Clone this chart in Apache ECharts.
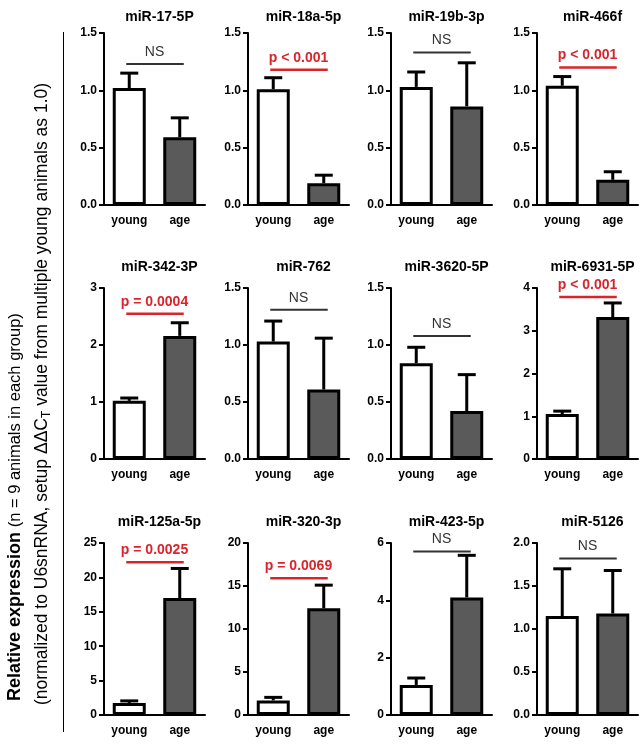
<!DOCTYPE html>
<html>
<head>
<meta charset="utf-8">
<script src="https://cdn.jsdelivr.net/npm/echarts@6/dist/echarts.min.js"></script>
<style>html,body{margin:0;padding:0;background:#fff}#c{width:641px;height:746px}</style>
</head>
<body>
<div id="c"></div>
<script>
const categories = ['young', 'age'];
const titles = ['miR-17-5P', 'miR-18a-5p', 'miR-19b-3p', 'miR-466f',
  'miR-342-3P', 'miR-762', 'miR-3620-5P', 'miR-6931-5P',
  'miR-125a-5p', 'miR-320-3p', 'miR-423-5p', 'miR-5126'];
const youngMean = [1.02, 1.01, 1.03, 1.04, 1.02, 1.03, 0.84, 1.05, 1.75, 1.70, 1.05, 1.15];
const youngSem  = [0.13, 0.10, 0.13, 0.08, 0.05, 0.18, 0.14, 0.07, 0.30, 0.35, 0.24, 0.55];
const ageMean   = [0.59, 0.19, 0.86, 0.22, 2.16, 0.61, 0.42, 3.32, 17.0, 12.4, 4.10, 1.18];
const ageSem    = [0.17, 0.07, 0.38, 0.07, 0.23, 0.45, 0.32, 0.33, 4.3, 2.7, 1.47, 0.50];
const sigY      = [1.23, 1.18, 1.33, 1.20, 2.55, 1.31, 1.08, 3.79, 22.2, 15.9, 5.70, 1.82];
const sigText   = ['NS', 'p < 0.001', 'NS', 'p < 0.001', 'p = 0.0004', 'NS', 'NS', 'p < 0.001',
  'p = 0.0025', 'p = 0.0069', 'NS', 'NS'];
const yMax      = [1.5, 1.5, 1.5, 1.5, 3, 1.5, 1.5, 4, 25, 20, 6, 2];
const yStep     = [0.5, 0.5, 0.5, 0.5, 1, 0.5, 0.5, 1, 5, 5, 2, 0.5];
const yDecimals = [1, 1, 1, 1, 0, 1, 1, 0, 0, 0, 0, 1];

const FONT = '"Liberation Sans", Arial, sans-serif';
const colLeft = [104, 248, 391, 537];
const rowTop = [33, 288, 543];
const rowH = [172, 171, 172];
const titleTop = [5, 255, 510];
const gridW = 101;

const grids = [], xAxes = [], yAxes = [], series = [], titleOpts = [];
for (let i = 0; i < 12; i++) {
  const r = Math.floor(i / 4), c = i % 4;
  grids.push({left: colLeft[c], top: rowTop[r], width: gridW, height: rowH[r]});
  titleOpts.push({
    text: titles[i], left: colLeft[c] + gridW / 2, top: titleTop[r], textAlign: 'center',
    textStyle: {fontFamily: FONT, fontWeight: 'bold', fontSize: 14, color: '#000'}
  });
  xAxes.push({
    type: 'category', gridIndex: i, data: categories,
    axisLine: {lineStyle: {color: '#000', width: 2}},
    axisTick: {alignWithLabel: true, length: 5, lineStyle: {color: '#000', width: 2}},
    axisLabel: {fontFamily: FONT, fontWeight: 'bold', fontSize: 12, color: '#000', margin: 10}
  });
  const dec = yDecimals[i];
  yAxes.push({
    type: 'value', gridIndex: i, min: 0, max: yMax[i], interval: yStep[i],
    splitLine: {show: false},
    axisLine: {show: true, lineStyle: {color: '#000', width: 2}},
    axisTick: {show: true, length: 5, lineStyle: {color: '#000', width: 2}},
    axisLabel: {fontFamily: FONT, fontWeight: 'bold', fontSize: 12, color: '#000', margin: 7,
      formatter: v => v.toFixed(dec)}
  });
  series.push({
    type: 'bar', xAxisIndex: i, yAxisIndex: i, barWidth: 33, z: 3,
    data: [
      {value: youngMean[i], itemStyle: {color: '#ffffff'}},
      {value: ageMean[i], itemStyle: {color: '#5a5a5a'}}
    ],
    itemStyle: {borderColor: '#000', borderWidth: 3}
  });
  series.push({
    type: 'custom', xAxisIndex: i, yAxisIndex: i, z: 2,
    data: [[0, youngMean[i], youngMean[i] + youngSem[i]], [1, ageMean[i], ageMean[i] + ageSem[i]]],
    renderItem: function (params, api) {
      const p0 = api.coord([api.value(0), api.value(1)]);
      const p1 = api.coord([api.value(0), api.value(2)]);
      const st = {stroke: '#000', lineWidth: 3};
      return {type: 'group', children: [
        {type: 'line', shape: {x1: p0[0], y1: p0[1], x2: p1[0], y2: p1[1]}, style: st},
        {type: 'line', shape: {x1: p1[0] - 9, y1: p1[1], x2: p1[0] + 9, y2: p1[1]}, style: st}
      ]};
    }
  });
  const isNS = sigText[i] === 'NS';
  const sc = isNS ? '#333333' : '#d9242b';
  series.push({
    type: 'custom', xAxisIndex: i, yAxisIndex: i, z: 4,
    data: [[0, sigY[i]]],
    renderItem: function (params, api) {
      const a = api.coord([0, api.value(1)]);
      const b = api.coord([1, api.value(1)]);
      return {type: 'group', children: [
        {type: 'line', shape: {x1: a[0] - 3, y1: a[1], x2: b[0] + 4, y2: b[1]},
          style: {stroke: sc, lineWidth: isNS ? 2 : 2.5}},
        {type: 'text', x: (a[0] + b[0]) / 2, y: a[1] - 12,
          style: {text: sigText[i], fill: sc, align: 'center', verticalAlign: 'middle',
            font: (isNS ? 'normal 14px ' : 'bold 14px ') + FONT}}
      ]};
    }
  });
}

const chart = echarts.init(document.getElementById('c'), null, {renderer: 'canvas'});
chart.setOption({
  animation: false,
  backgroundColor: '#fff',
  title: titleOpts,
  grid: grids, xAxis: xAxes, yAxis: yAxes, series: series,
  graphic: [
    {type: 'line', shape: {x1: 63.5, y1: 32, x2: 63.5, y2: 732}, style: {stroke: '#000', lineWidth: 1}},
    {type: 'text', x: 15, y: 701, rotation: Math.PI / 2,
      style: {text: '{b|Relative expression} (n = 9 animals in each group)',
        font: '16.5px ' + FONT, fill: '#000', align: 'left', verticalAlign: 'middle',
        rich: {b: {fontFamily: FONT, fontWeight: 'bold', fontSize: 18, fill: '#000'}}}},
    {type: 'text', x: 42, y: 705, rotation: Math.PI / 2,
      style: {text: '(normalized to U6snRNA, setup \u0394\u0394C{s|T} value from multiple young animals as 1.0)',
        font: '17.5px ' + FONT, fill: '#000', align: 'left', verticalAlign: 'middle',
        rich: {s: {fontFamily: FONT, fontSize: 12, fill: '#000', verticalAlign: 'bottom', padding: [9, 0, 0, 0]}}}}
  ]
});
</script>
</body>
</html>
